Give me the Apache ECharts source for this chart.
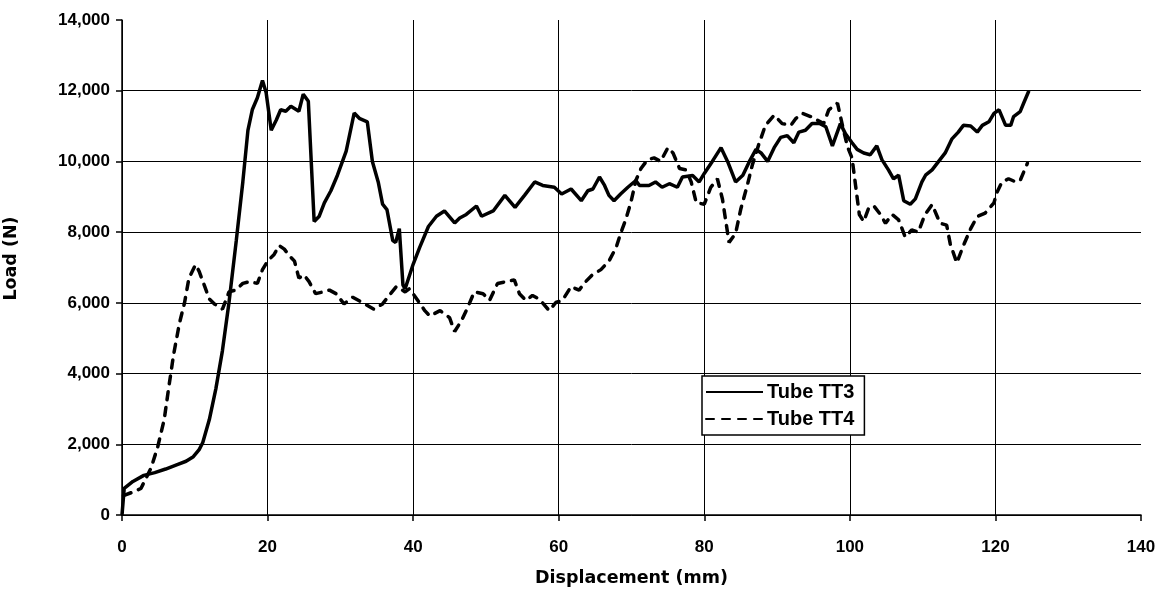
<!DOCTYPE html>
<html>
<head>
<meta charset="utf-8">
<script src="https://cdn.jsdelivr.net/npm/echarts@6/dist/echarts.min.js"></script>
<style>
html,body{margin:0;padding:0;background:#fff;}
#chart{width:1162px;height:595px;}
</style>
</head>
<body>
<div id="chart"></div>
<script>
var xTicks = [0, 20, 40, 60, 80, 100, 120, 140];
var yTicks = [0, 2000, 4000, 6000, 8000, 10000, 12000, 14000];
var seriesNames = ['Tube TT3', 'Tube TT4'];

var tt3Disp = [0,0.3,1.5,3,4.5,6,7.5,8.8,9.8,10.6,11.1,12,12.9,13.8,14.7,15.7,16.6,17.3,17.9,18.6,19.3,19.8,20.5,21.2,21.8,22.5,23.2,24.3,24.9,25.6,26.4,27.1,27.8,28.7,29.6,30.8,31.9,32.6,33.7,34.4,35.2,35.8,36.4,37.2,37.6,38.1,38.6,38.9,40,40.9,42.1,43.2,44.3,45.7,46.4,47.3,48.7,49.4,51,52.6,54,55.3,56.7,57.8,59.4,60.4,61.7,63.1,64,64.7,65.6,66.3,66.9,67.6,68.5,69.5,70.6,71.1,72.4,73.3,74.2,75.2,76.3,77,78.4,79.3,80,81.1,82.3,83.2,84.3,85.3,86.2,87.1,87.8,88.7,89.6,90.5,91.4,92.3,93,93.9,94.8,95.9,96.7,97.6,98.7,99.4,100.3,101,101.9,102.8,103.7,104.4,105.3,106,106.7,107.4,108.3,109,109.9,110.4,111.3,112.2,113.1,114,114.9,115.6,116.6,117.5,118.2,119.1,119.8,120.5,121.4,122.1,122.5,123.4,123.9,124.6];
var tt3Load = [0,750,950,1120,1200,1300,1420,1520,1650,1850,2050,2700,3575,4650,6010,7760,9420,10880,11460,11800,12290,11950,10880,11170,11460,11420,11560,11420,11900,11700,8300,8450,8830,9170,9610,10290,11370,11220,11120,10000,9420,8790,8640,7760,7710,8100,6500,6400,7090,7570,8160,8450,8600,8260,8400,8500,8740,8450,8600,9040,8700,9040,9420,9320,9270,9080,9220,8890,9170,9220,9560,9320,9040,8890,9080,9270,9460,9320,9320,9420,9270,9370,9270,9560,9600,9420,9660,10000,10390,10000,9420,9610,10000,10340,10240,10000,10390,10680,10730,10530,10830,10880,11070,11070,10980,10440,11070,10780,10530,10340,10240,10190,10440,10050,9760,9510,9610,8890,8790,8940,9420,9610,9760,10000,10240,10630,10830,11020,11000,10830,11020,11120,11360,11460,11020,11020,11270,11410,11660,12000];

var tt4Disp = [0.2,1.5,2.6,3.3,4,4.9,5.8,6.4,7.1,7.9,8.6,9.2,10.1,10.6,11.3,12,12.7,13.8,14.7,15.6,16.6,17.5,18.6,19.3,20,20.9,21.6,22.3,23,23.7,24.3,25,25.7,26.6,27.6,28.5,29.4,30.5,31.7,33,34.6,35.8,36.7,37.7,38.9,39.5,40.5,41.6,42.3,43.7,45,45.7,46.6,47.5,48.4,49.6,50.5,51.6,52.8,53.9,54.6,55.5,56.4,57.3,58.7,59.6,60.5,61.7,62.8,63.7,64.6,65.8,66.9,67.9,68.5,69.2,69.9,70.6,71.3,72.2,73.1,74,75,75.7,76.6,77.5,78.2,78.9,80,80.9,81.8,82.5,83,83.4,84.3,85,85.9,86.6,87.5,88.4,89.6,90.7,91.9,92.6,93.5,94.6,95.5,96.4,97.1,98.3,99,99.7,100.3,100.8,101.3,101.9,102.6,103.3,104.2,104.9,105.8,106.7,107.6,108.5,109.4,110.3,111.3,112.4,113.3,113.8,114.7,115.6,116.6,117.5,118.6,119.8,120.2,120.9,121.8,122.8,123.4,124.4];
var tt4Load = [550,650,750,1040,1335,1920,2700,3575,4550,5430,6010,6700,7080,6890,6500,6110,5970,5820,6310,6360,6550,6600,6550,6940,7180,7370,7620,7520,7330,7180,6700,6790,6600,6260,6310,6360,6260,5970,6160,6010,5820,5970,6210,6460,6310,6400,6110,5780,5630,5780,5580,5190,5480,5870,6310,6260,6070,6550,6600,6650,6260,6070,6210,6110,5780,6010,6070,6460,6360,6600,6790,6940,7180,7570,7960,8350,8830,9460,9800,10050,10100,10000,10390,10240,9800,9760,9420,8830,8790,9270,9510,8930,8250,7710,7960,8640,9320,9900,10490,11020,11310,11070,11020,11220,11360,11270,11170,11070,11460,11650,11000,10400,10100,9300,8500,8300,8690,8740,8500,8250,8500,8350,7860,8060,8000,8490,8780,8250,8200,7660,7130,7620,8100,8440,8540,8830,9120,9420,9510,9420,9460,9950];

function pairs(xs, ys) { return xs.map(function (x, i) { return [x, ys[i]]; }); }

var chart = echarts.init(document.getElementById('chart'), null, {renderer: 'canvas'});
var tickFont = {fontFamily: '"Liberation Sans", Arial, sans-serif', fontWeight: 'bold', fontSize: 17, color: '#000'};
chart.setOption({
  animation: false,
  backgroundColor: '#fff',
  grid: {left: 122, right: 21, top: 20, bottom: 80, containLabel: false, outerBoundsMode: 'none'},
  legend: {
    data: seriesNames,
    orient: 'vertical',
    left: 702, top: 376,
    itemWidth: 57, itemHeight: 12, itemGap: 7,
    padding: [6, 10, 6, 3],
    backgroundColor: '#fff',
    borderColor: '#000', borderWidth: 1.5,
    itemStyle: {opacity: 0},
    textStyle: {fontFamily: 'Liberation Sans, Arial, sans-serif', fontWeight: 'bold', fontSize: 20, color: '#000', padding: [0, 0, 0, -1]}
  },
  xAxis: {
    type: 'value', min: 0, max: 140, interval: 20,
    name: 'Displacement (mm)', nameLocation: 'middle', nameGap: 54,
    nameTextStyle: {fontFamily: 'DejaVu Sans, sans-serif', fontWeight: 'bold', fontSize: 17.5, color: '#000'},
    axisLine: {show: true, onZero: false, lineStyle: {color: '#000', width: 1.5}},
    axisTick: {show: true, length: 6, lineStyle: {color: '#000', width: 1.5}},
    axisLabel: Object.assign({margin: 24, formatter: function (v) { return xTicks.indexOf(v) >= 0 ? String(v) : ''; }}, tickFont),
    splitLine: {show: true, showMaxLine: false, lineStyle: {color: '#000', width: 1}}
  },
  yAxis: {
    type: 'value', min: 0, max: 14000, interval: 2000,
    name: 'Load (N)', nameLocation: 'middle', nameGap: 102, nameRotate: 90,
    nameTextStyle: {fontFamily: 'DejaVu Sans, sans-serif', fontWeight: 'bold', fontSize: 17.5, color: '#000', padding: [0, 0, 0, 18]},
    axisLine: {show: true, onZero: false, lineStyle: {color: '#000', width: 1.5}},
    axisTick: {show: true, length: 6, lineStyle: {color: '#000', width: 1.5}},
    axisLabel: Object.assign({margin: 12, formatter: function (v) { return yTicks.indexOf(v) >= 0 ? v.toLocaleString('en-US') : ''; }}, tickFont),
    splitLine: {show: true, showMaxLine: false, lineStyle: {color: '#000', width: 1}}
  },
  series: [
    {name: seriesNames[0], type: 'line', data: pairs(tt3Disp, tt3Load), symbol: 'none', smooth: false,
     lineStyle: {color: '#000', width: 3.5, type: 'solid'}, itemStyle: {color: '#000'}, z: 3},
    {name: seriesNames[1], type: 'line', data: pairs(tt4Disp, tt4Load), symbol: 'none', smooth: false,
     lineStyle: {color: '#000', width: 3.5, type: [8, 8], cap: 'round'}, itemStyle: {color: '#000'}, z: 2}
  ]
});
</script>
</body>
</html>
